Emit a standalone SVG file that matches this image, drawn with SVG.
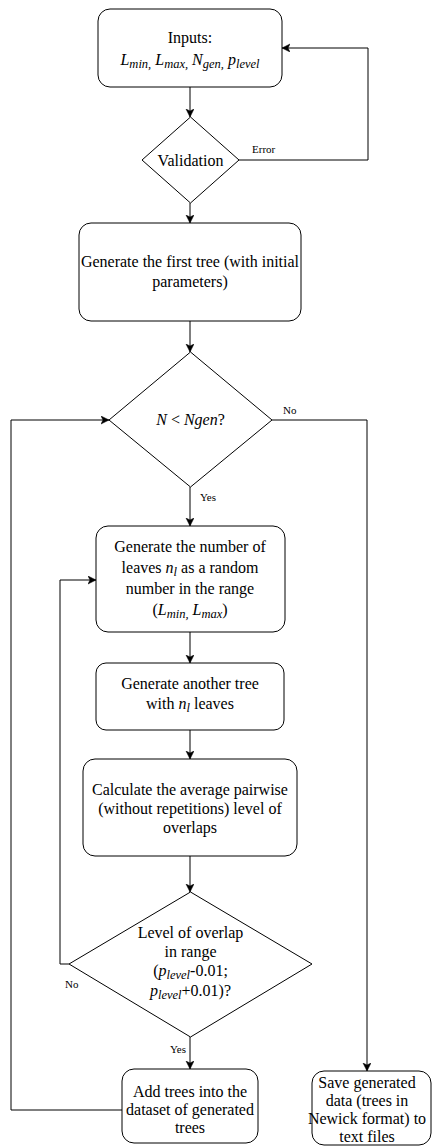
<svg xmlns="http://www.w3.org/2000/svg" width="432" height="1146" viewBox="0 0 432 1146">
<style>
.n{fill:#fff;stroke:#000;stroke-width:1}
.c{fill:none;stroke:#000;stroke-width:1}
.t{font-family:'Liberation Serif',Tinos,'Times New Roman','DejaVu Serif',serif;font-size:16px;fill:#000;text-anchor:middle}
.l{font-family:'Liberation Serif',Tinos,'Times New Roman','DejaVu Serif',serif;font-size:11px;fill:#000}
.i{font-style:italic}
.s{font-style:italic;font-size:12.5px}
</style>
<defs>
<marker id="a" markerUnits="userSpaceOnUse" markerWidth="10" markerHeight="10" refX="8" refY="4" orient="auto">
<path d="M0,0 L8,4 L0,8 L2,4 z" fill="#000" stroke="#000" stroke-width="0.5"/>
</marker>
</defs>
<rect width="432" height="1146" fill="#fff"/>
<g id="connectors">
<path class="c" d="M190,87 V117" marker-end="url(#a)"/>
<path class="c" d="M239,160 H368 V48 H282" marker-end="url(#a)"/>
<path class="c" d="M190,203 V223" marker-end="url(#a)"/>
<path class="c" d="M190,321 V352" marker-end="url(#a)"/>
<path class="c" d="M190,487 V526" marker-end="url(#a)"/>
<path class="c" d="M272,420 H367 V1071" marker-end="url(#a)"/>
<path class="c" d="M190,632 V663" marker-end="url(#a)"/>
<path class="c" d="M190,730 V759" marker-end="url(#a)"/>
<path class="c" d="M190,856 V892" marker-end="url(#a)"/>
<path class="c" d="M69,964 H60 V580 H96" marker-end="url(#a)"/>
<path class="c" d="M190,1037 V1069" marker-end="url(#a)"/>
<path class="c" d="M122,1110 H11 V420 H109" marker-end="url(#a)"/>
<text class="l" x="252" y="153">Error</text>
<text class="l" x="283" y="414">No</text>
<text class="l" x="200" y="501">Yes</text>
<text class="l" x="65" y="988">No</text>
<text class="l" x="170" y="1053">Yes</text>
</g>
<g id="inputs">
<rect class="n" x="98" y="9" width="184" height="78" rx="12"/>
<text class="t" x="190" y="43">Inputs:</text>
<text class="t" x="190" y="65"><tspan class="i">L</tspan><tspan class="s" dy="3">min,</tspan><tspan dy="-3"> </tspan><tspan class="i">L</tspan><tspan class="s" dy="3">max,</tspan><tspan dy="-3"> </tspan><tspan class="i">N</tspan><tspan class="s" dy="3">gen,</tspan><tspan dy="-3"> </tspan><tspan class="i">p</tspan><tspan class="s" dy="3">level</tspan></text>
</g>
<g id="validation">
<path class="n" d="M190.5,117 L239,160 L190.5,203 L142,160 Z"/>
<text class="t" x="190.5" y="166">Validation</text>
</g>
<g id="first-tree">
<rect class="n" x="79" y="223" width="222" height="98" rx="12"/>
<text class="t" x="190" y="267">Generate the first tree (with initial</text>
<text class="t" x="190" y="287">parameters)</text>
</g>
<g id="loop-check">
<path class="n" d="M190.5,352 L272,420 L190.5,487 L109,420 Z"/>
<text class="t" x="190.5" y="425"><tspan class="i">N</tspan> &lt; <tspan class="i">Ngen</tspan>?</text>
</g>
<g id="gen-leaves">
<rect class="n" x="96" y="526" width="189" height="106" rx="12"/>
<text class="t" x="190" y="552">Generate the number of</text>
<text class="t" x="190" y="573">leaves <tspan class="i">n</tspan><tspan class="s" dy="3">l</tspan><tspan dy="-3"> as a random</tspan></text>
<text class="t" x="190" y="594">number in the range</text>
<text class="t" x="190" y="615">(<tspan class="i">L</tspan><tspan class="s" dy="3">min,</tspan><tspan dy="-3"> </tspan><tspan class="i">L</tspan><tspan class="s" dy="3">max</tspan><tspan dy="-3">)</tspan></text>
</g>
<g id="gen-tree">
<rect class="n" x="96" y="663" width="188" height="67" rx="10"/>
<text class="t" x="190" y="689">Generate another tree</text>
<text class="t" x="190" y="709">with <tspan class="i">n</tspan><tspan class="s" dy="3">l</tspan><tspan dy="-3"> leaves</tspan></text>
</g>
<g id="calc-overlap">
<rect class="n" x="83" y="759" width="214" height="97" rx="12"/>
<text class="t" x="190" y="795">Calculate the average pairwise</text>
<text class="t" x="190" y="814">(without repetitions) level of</text>
<text class="t" x="190" y="833">overlaps</text>
</g>
<g id="range-check">
<path class="n" d="M190.5,892 L312,964 L190.5,1037 L69,964 Z"/>
<text class="t" x="190.5" y="938">Level of overlap</text>
<text class="t" x="190.5" y="957">in range</text>
<text class="t" x="190.5" y="976">(<tspan class="i">p</tspan><tspan class="s" dy="3">level</tspan><tspan dy="-3">-0.01;</tspan></text>
<text class="t" x="190.5" y="996"><tspan class="i">p</tspan><tspan class="s" dy="3">level</tspan><tspan dy="-3">+0.01)?</tspan></text>
</g>
<g id="add-trees">
<rect class="n" x="122" y="1069" width="136" height="74" rx="12"/>
<text class="t" x="190" y="1097">Add trees into the</text>
<text class="t" x="190" y="1115">dataset of generated</text>
<text class="t" x="190" y="1133">trees</text>
</g>
<g id="save">
<rect class="n" x="312" y="1071" width="119" height="74" rx="12"/>
<text class="t" x="367" y="1088">Save generated</text>
<text class="t" x="367" y="1106">data (trees in</text>
<text class="t" x="367" y="1124">Newick format) to</text>
<text class="t" x="367" y="1142">text files</text>
</g>
</svg>
